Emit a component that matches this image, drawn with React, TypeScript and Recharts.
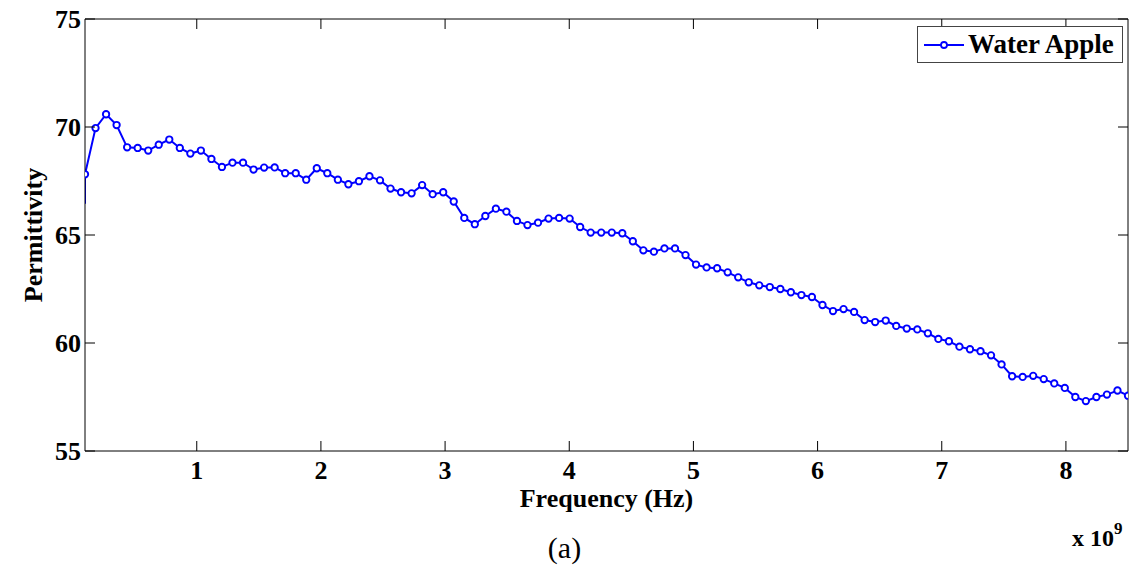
import { LineChart, Line, XAxis, YAxis, Legend } from 'recharts';

// sweep: 100 samples from 0.1 to 8.5 GHz (axis is in units of 1e9 Hz)
const F_START = 0.1;
const F_STOP = 8.5;
const startValue = 66.45; // trace starts below the first marker at the left edge

const permittivity = [
  67.81, 69.95, 70.59, 70.09, 69.06, 69.03, 68.91, 69.18, 69.42, 69.03,
  68.77, 68.91, 68.52, 68.15, 68.35, 68.35, 68.03, 68.12, 68.13, 67.86,
  67.86, 67.56, 68.09, 67.86, 67.56, 67.35, 67.49, 67.72, 67.53, 67.15,
  66.98, 66.93, 67.31, 66.89, 66.98, 66.55, 65.79, 65.5, 65.88, 66.22,
  66.08, 65.65, 65.46, 65.57, 65.76, 65.79, 65.76, 65.37, 65.11, 65.11,
  65.11, 65.08, 64.71, 64.29, 64.23, 64.38, 64.38, 64.07, 63.63, 63.5,
  63.46, 63.27, 63.04, 62.81, 62.67, 62.59, 62.5, 62.35, 62.22, 62.13,
  61.76, 61.48, 61.57, 61.44, 61.06, 60.97, 61.04, 60.79, 60.67, 60.63,
  60.45, 60.19, 60.08, 59.83, 59.71, 59.62, 59.43, 59.01, 58.46, 58.43,
  58.48, 58.33, 58.13, 57.92, 57.5, 57.31, 57.5, 57.61, 57.8, 57.56,
];

const xTicks = [1, 2, 3, 4, 5, 6, 7, 8];
const yTicks = [55, 60, 65, 70, 75];

const step = (F_STOP - F_START) / (permittivity.length - 1);
const data = [
  { f: F_START, eps: startValue },
  ...permittivity.map((v, i) => ({ f: +(F_START + i * step).toFixed(4), eps: v })),
];

const FONT = '"Liberation Serif", "Times New Roman", serif';
const TICK_LEN = 10;

const BottomTick = ({ x, y, payload }: any) => (
  <g>
    <line x1={x} y1={y} x2={x} y2={y - TICK_LEN} stroke="#000" />
    <text x={x} y={y + 28} textAnchor="middle" fontFamily={FONT} fontWeight="bold" fontSize={26} fill="#000">
      {payload.value}
    </text>
  </g>
);

const TopTick = ({ x, y }: any) => <line x1={x} y1={y} x2={x} y2={y + TICK_LEN} stroke="#000" />;

const LeftTick = ({ x, y, payload }: any) => (
  <g>
    <line x1={x} y1={y} x2={x + TICK_LEN} y2={y} stroke="#000" />
    <text x={x - 4} y={y + 9} textAnchor="end" fontFamily={FONT} fontWeight="bold" fontSize={26} fill="#000">
      {payload.value}
    </text>
  </g>
);

const RightTick = ({ x, y }: any) => <line x1={x} y1={y} x2={x - TICK_LEN} y2={y} stroke="#000" />;

const XLabel = ({ viewBox }: any) => (
  <text x={viewBox.x + viewBox.width / 2} y={viewBox.y + 56} textAnchor="middle" fontFamily={FONT} fontWeight="bold" fontSize={26} fill="#000">
    Frequency (Hz)
  </text>
);

const YLabel = ({ viewBox }: any) => {
  const cx = 33;
  const cy = viewBox.y + viewBox.height / 2;
  return (
    <text x={cx} y={cy} transform={`rotate(-90 ${cx} ${cy})`} textAnchor="middle" dominantBaseline="central" fontFamily={FONT} fontWeight="bold" fontSize={26} fill="#000">
      Permittivity
    </text>
  );
};

const Marker = (props: any) => {
  const { cx, cy, index } = props;
  if (index === 0) return <g key={`dot-${index}`} />;
  return <circle key={`dot-${index}`} cx={cx} cy={cy} r={3.2} stroke="#0000ff" strokeWidth={1.9} fill="#fff" />;
};

const LegendBox = () => (
  <div style={{ border: '1px solid #444', background: '#fff', display: 'flex', alignItems: 'center', height: 37, boxSizing: 'border-box', padding: '0 6px' }}>
    <svg width={40} height={12}>
      <line x1={0} y1={6} x2={40} y2={6} stroke="#0000ff" strokeWidth={2} />
      <circle cx={20} cy={6} r={3} stroke="#0000ff" strokeWidth={1.8} fill="#fff" />
    </svg>
    <span style={{ fontFamily: FONT, fontWeight: 'bold', fontSize: 27, marginLeft: 4, color: '#000', lineHeight: 1 }}>
      Water Apple
    </span>
  </div>
);

export default function App() {
  return (
    <div style={{ position: 'absolute', left: 0, top: 0, width: 1135, height: 569, background: '#fff' }}>
      <LineChart width={1135} height={569} data={data} margin={{ top: 18, right: 6, left: 0, bottom: 0 }}>
        <XAxis
          dataKey="f"
          type="number"
          domain={[F_START, F_STOP]}
          ticks={xTicks}
          allowDataOverflow
          height={118}
          stroke="#000"
          tickLine={false}
          tickSize={0}
          tickMargin={0}
          tick={BottomTick}
          label={<XLabel />}
        />
        <XAxis
          xAxisId="top"
          dataKey="f"
          orientation="top"
          type="number"
          domain={[F_START, F_STOP]}
          ticks={xTicks}
          allowDataOverflow
          height={1}
          stroke="#000"
          tickLine={false}
          tickSize={0}
          tickMargin={0}
          tick={TopTick}
        />
        <YAxis
          type="number"
          domain={[55, 75]}
          ticks={yTicks}
          width={85}
          stroke="#000"
          tickLine={false}
          tickSize={0}
          tickMargin={0}
          tick={LeftTick}
          label={<YLabel />}
        />
        <YAxis
          yAxisId="right"
          orientation="right"
          type="number"
          domain={[55, 75]}
          ticks={yTicks}
          allowDataOverflow
          width={1}
          stroke="#000"
          tickLine={false}
          tickSize={0}
          tickMargin={0}
          tick={RightTick}
        />
        <Legend
          verticalAlign="middle"
          layout="horizontal"
          content={<LegendBox />}
          wrapperStyle={{ top: 26, left: 917, width: 206 }}
        />
        {/* invisible copy so the top/right frame axes are drawn */}
        <Line
          xAxisId="top"
          yAxisId="right"
          dataKey="eps"
          stroke="none"
          dot={false}
          activeDot={false}
          legendType="none"
          isAnimationActive={false}
        />
        <Line
          type="linear"
          dataKey="eps"
          name="Water Apple"
          stroke="#0000ff"
          strokeWidth={2}
          dot={Marker}
          activeDot={false}
          isAnimationActive={false}
        />
      </LineChart>
      <div style={{ position: 'absolute', left: 1072, top: 523, fontFamily: FONT, fontWeight: 'bold', fontSize: 24, color: '#000', whiteSpace: 'nowrap', lineHeight: 1 }}>
        x 10<sup style={{ fontSize: 17, position: 'relative', top: -3 }}>9</sup>
      </div>
      <div style={{ position: 'absolute', left: 0, width: 1135, top: 531, textAlign: 'center', fontFamily: FONT, fontSize: 30, color: '#000' }}>
        <span style={{ position: 'relative', left: -3 }}>(a)</span>
      </div>
    </div>
  );
}
